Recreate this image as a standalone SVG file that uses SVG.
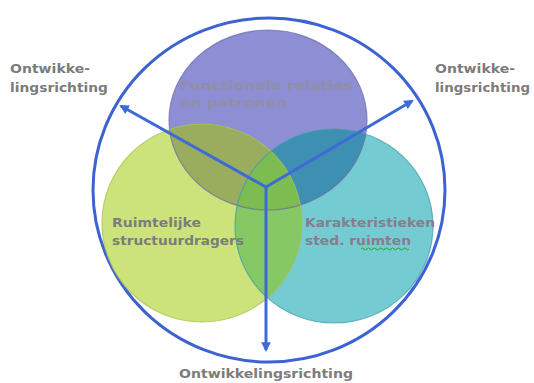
<svg xmlns="http://www.w3.org/2000/svg" width="534" height="383" viewBox="0 0 534 383">
<defs>
<style>
.t{font-family:"DejaVu Sans","Verdana",sans-serif;font-weight:bold;font-size:12.5px;fill:#7c7c7c}
.arr{stroke:#3d6ad6;stroke-width:3;fill:none;marker-end:url(#ah)}
.ol{fill:none;stroke-width:1.2}
</style>
<marker id="ah" viewBox="0 0 10 10" refX="8" refY="5" markerWidth="3.2" markerHeight="3.2" orient="auto" markerUnits="strokeWidth">
<path d="M0,0 L10,5 L0,10 z" fill="#3d6ad6"/>
</marker>
<clipPath id="cP"><ellipse cx="268" cy="120" rx="99" ry="90"/></clipPath>
<clipPath id="cG"><ellipse cx="202" cy="223" rx="100" ry="99"/></clipPath>
</defs>
<rect width="534" height="383" fill="#ffffff"/>
<g id="outer">
<ellipse cx="269" cy="190" rx="176" ry="172" fill="none" stroke="#3d62d2" stroke-width="3"/>
</g>
<g id="functionele">
<ellipse cx="268" cy="120" rx="99" ry="90" fill="#8e8ed4"/>
</g>
<g id="ruimtelijke">
<ellipse cx="202" cy="223" rx="100" ry="99" fill="#cce27a"/>
</g>
<g id="karakteristieken">
<ellipse cx="334" cy="226" rx="99" ry="97" fill="#74cbd2"/>
</g>
<g id="overlaps">
<ellipse cx="202" cy="223" rx="100" ry="99" fill="#9aad5e" clip-path="url(#cP)"/>
<ellipse cx="334" cy="226" rx="99" ry="97" fill="#3e90b2" clip-path="url(#cP)"/>
<ellipse cx="334" cy="226" rx="99" ry="97" fill="#86c864" clip-path="url(#cG)"/>
<g clip-path="url(#cP)"><ellipse cx="334" cy="226" rx="99" ry="97" fill="#7cbc50" clip-path="url(#cG)"/></g>
<ellipse class="ol" cx="268" cy="120" rx="99" ry="90" stroke="#6a6aac" stroke-opacity="0.7"/>
<ellipse class="ol" cx="202" cy="223" rx="100" ry="99" stroke="#a8c050" stroke-opacity="0.7"/>
<ellipse class="ol" cx="334" cy="226" rx="99" ry="97" stroke="#3a9ea6" stroke-opacity="0.7"/>
</g>
<g id="connectors">
<line class="arr" x1="266" y1="187" x2="121" y2="106"/>
<line class="arr" x1="266" y1="187" x2="412" y2="101"/>
<line class="arr" x1="266" y1="187" x2="266" y2="350"/>
</g>
<g id="labels">
<text class="t" x="180" y="90" style="fill:#8f8fa8" textLength="173" lengthAdjust="spacingAndGlyphs">Functionele relaties</text>
<text class="t" x="180" y="107" style="fill:#8f8fa8" textLength="107" lengthAdjust="spacingAndGlyphs">en patronen</text>
<text class="t" x="112" y="227" textLength="89" lengthAdjust="spacingAndGlyphs">Ruimtelijke</text>
<text class="t" x="112" y="245" textLength="132" lengthAdjust="spacingAndGlyphs">structuurdragers</text>
<text class="t" x="305" y="227" style="fill:#8a7c8c" textLength="130" lengthAdjust="spacingAndGlyphs">Karakteristieken</text>
<text class="t" x="305" y="245" style="fill:#8a7c8c" textLength="106" lengthAdjust="spacingAndGlyphs">sted. ruimten</text>
<path d="M361,249 q1.5,-2 3,0 t3,0 t3,0 t3,0 t3,0 t3,0 t3,0 t3,0 t3,0 t3,0 t3,0 t3,0 t3,0 t3,0 t3,0 t3,0" fill="none" stroke="#2aa02a" stroke-width="1"/>
<text class="t" x="10" y="73" textLength="80" lengthAdjust="spacingAndGlyphs">Ontwikke-</text>
<text class="t" x="10" y="92" textLength="98" lengthAdjust="spacingAndGlyphs">lingsrichting</text>
<text class="t" x="435" y="73" textLength="80" lengthAdjust="spacingAndGlyphs">Ontwikke-</text>
<text class="t" x="435" y="92" textLength="95" lengthAdjust="spacingAndGlyphs">lingsrichting</text>
<text class="t" x="179" y="378" textLength="174" lengthAdjust="spacingAndGlyphs">Ontwikkelingsrichting</text>
</g>
</svg>
